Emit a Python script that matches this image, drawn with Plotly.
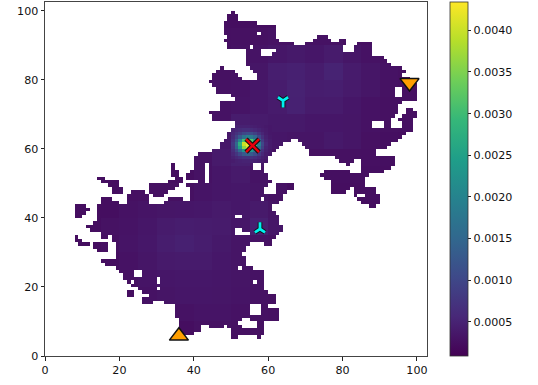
import plotly.graph_objects as go

# Occupied cells per grid row: row -> inclusive column runs
OCCUPIED = {
99: [(50,50)], 98: [(49,51)], 97: [(49,51)], 96: [(48,56)], 95: [(48,61)], 94: [(48,61)],
93: [(48,56),(58,61)], 92: [(49,61),(73,75)], 91: [(48,62),(72,76),(79,80)],
90: [(49,66),(70,80),(84,87)], 89: [(49,54),(56,79),(83,87)], 88: [(54,57),(62,79),(83,87)],
87: [(54,57),(61,87)], 86: [(54,90)], 85: [(54,91)], 84: [(54,92)],
83: [(47,47),(55,95)], 82: [(46,50),(56,96)], 81: [(45,51),(57,95)], 80: [(45,52),(57,97)],
79: [(44,98)], 78: [(45,99)], 77: [(46,93),(96,99)], 76: [(46,93),(96,99)], 75: [(50,93),(96,99)],
74: [(51,99)], 73: [(47,95)], 72: [(47,94)], 71: [(47,94),(97,98)], 70: [(44,94),(97,99)],
69: [(45,93),(96,99)], 68: [(45,92),(95,98)], 67: [(51,87),(91,92),(96,98)], 66: [(51,87),(91,92),(96,98)],
65: [(50,98)], 64: [(49,96)], 63: [(49,95)], 62: [(48,65),(68,94)], 61: [(47,63),(69,92)],
60: [(47,62),(70,91)], 59: [(45,61),(71,88)], 58: [(41,60),(71,88)], 57: [(40,59),(78,93)],
56: [(40,59),(79,82),(85,93)], 55: [(34,34),(40,42),(44,55),(58,58),(81,81),(85,93)],
54: [(34,34),(40,42),(44,55),(58,58),(85,92)], 53: [(34,35),(39,42),(44,58),(75,81),(85,90)],
52: [(34,35),(38,42),(44,59),(74,86)], 51: [(14,15),(35,36),(38,42),(44,59),(75,85)],
50: [(15,19),(33,36),(41,42),(44,60),(77,85)], 49: [(17,19),(28,35),(38,59),(62,66),(77,85)],
48: [(18,20),(28,34),(39,58),(62,66),(77,81),(83,88)],
47: [(18,20),(23,26),(28,32),(39,58),(62,64),(77,80),(83,88)],
46: [(22,27),(29,31),(39,63),(83,83),(86,89)], 45: [(15,17),(22,27),(33,36),(39,57),(59,63),(84,89)],
44: [(15,19),(22,27),(32,62),(85,89)], 43: [(8,10),(14,60),(87,88)], 42: [(8,11),(14,60)],
41: [(8,10),(14,61)], 40: [(8,9),(14,50),(53,62)], 39: [(14,62)], 38: [(13,62)], 37: [(11,63)],
36: [(12,50),(53,63)], 35: [(15,50),(55,62)], 34: [(8,8),(15,16),(18,61)], 33: [(8,9),(18,60)],
32: [(9,11),(13,16),(19,54),(59,60)], 31: [(13,16),(19,53)], 30: [(14,16),(19,53)], 29: [(19,52)],
28: [(19,53)], 27: [(15,53)], 26: [(16,53)], 25: [(19,51),(53,55)], 24: [(20,23),(26,58)],
23: [(21,23),(26,58)], 22: [(21,29),(31,58)], 21: [(22,22),(24,29),(31,55),(57,58)], 20: [(23,58)],
19: [(25,29),(31,58)], 18: [(22,23),(26,59)], 17: [(22,23),(28,61)], 16: [(26,61)],
15: [(26,28),(32,61)], 14: [(35,54),(58,59)], 13: [(35,54),(58,62)], 12: [(35,54),(58,62)],
11: [(35,62)], 10: [(36,52),(55,62)], 9: [(36,51),(57,58)], 8: [(36,41),(44,47),(49,52),(57,58)],
7: [(36,41),(50,58)], 6: [(36,39),(50,58)], 5: [(50,51),(57,57)],
}

# Density in units of 1e-4, per 5x5 block; block rows from y=0 upward, columns from x=0
BLOCK_VALUES = [
[2.5,2.5,2.5,2.5,2.5,2.5,2.5,2.5,2.5,2.5,2.5,2.5,2.5,2.5,2.5,2.5,2.5,2.5,2.5,2.5],
[2.5,2.5,2.5,2.5,2.5,2.5,2.5,2.5,2.9,2.9,2.8,2.8,2.5,2.5,2.5,2.5,2.5,2.5,2.5,2.5],
[2.5,2.5,2.5,2.5,2.5,2.5,2.5,3.0,3.2,3.2,3.0,2.9,2.8,2.5,2.5,2.5,2.5,2.5,2.5,2.5],
[2.5,2.5,2.5,2.5,2.5,3.0,3.3,3.5,3.5,3.4,3.2,3.0,2.8,2.5,2.5,2.5,2.5,2.5,2.5,2.5],
[2.5,2.5,2.5,2.5,2.8,3.2,3.5,3.6,3.6,3.5,3.3,3.0,2.5,2.5,2.5,2.5,2.5,2.5,2.5,2.5],
[2.5,2.5,2.5,2.5,3.0,3.4,3.9,4.1,4.0,3.6,3.3,3.0,2.5,2.5,2.5,2.5,2.5,2.5,2.5,2.5],
[2.5,2.5,2.5,2.7,3.2,3.6,4.3,4.7,4.3,3.8,3.3,3.0,2.8,2.5,2.5,2.5,2.5,2.5,2.5,2.5],
[2.5,2.5,2.5,2.9,3.1,3.5,4.1,4.3,4.2,4.0,3.5,4.6,3.5,2.5,2.5,2.5,2.5,2.5,2.5,2.5],
[2.5,2.5,2.5,2.5,3.0,3.2,3.4,3.5,3.6,3.9,3.6,3.9,3.3,2.5,2.5,2.5,2.5,2.5,2.5,2.5],
[2.5,2.5,2.5,2.5,2.7,2.8,2.8,2.8,3.2,3.5,3.6,3.3,3.0,2.5,2.5,2.5,2.5,2.6,2.5,2.5],
[2.5,2.5,2.5,2.5,2.5,2.5,2.5,2.5,3.0,3.5,3.9,3.1,2.8,2.7,2.6,2.6,2.6,2.6,2.5,2.5],
[2.5,2.5,2.5,2.5,2.5,2.5,2.5,2.5,3.0,3.9,4.6,3.6,2.9,2.8,2.8,2.8,2.8,2.7,2.6,2.5],
[2.5,2.5,2.5,2.5,2.5,2.5,2.5,2.5,2.7,3.6,4.6,4.2,3.5,3.3,3.3,3.8,3.4,2.8,2.6,2.5],
[2.5,2.5,2.5,2.5,2.5,2.5,2.5,2.5,2.5,3.0,4.2,4.0,3.8,3.8,3.5,3.5,3.4,3.0,2.8,2.7],
[2.5,2.5,2.5,2.5,2.5,2.5,2.5,2.5,2.5,3.0,3.2,3.6,4.0,4.8,4.0,4.0,3.5,3.0,2.8,2.7],
[2.5,2.5,2.5,2.5,2.5,2.5,2.5,2.5,2.5,3.0,3.1,3.6,4.2,4.9,4.3,4.4,3.9,3.4,2.9,2.7],
[2.5,2.5,2.5,2.5,2.5,2.5,2.5,2.5,2.5,2.8,3.0,3.4,4.4,4.7,4.2,5.0,4.0,3.4,3.0,2.7],
[2.5,2.5,2.5,2.5,2.5,2.5,2.5,2.5,2.5,2.6,2.9,3.1,3.5,3.8,3.5,4.0,3.4,3.0,2.7,2.5],
[2.5,2.5,2.5,2.5,2.5,2.5,2.5,2.5,2.5,2.7,2.8,2.8,3.0,3.0,3.0,3.0,2.8,2.7,2.5,2.5],
[2.5,2.5,2.5,2.5,2.5,2.5,2.5,2.5,2.5,2.5,2.5,2.5,2.5,2.5,2.5,2.5,2.5,2.5,2.5,2.5],
]

# Bright peak, cell by cell, units of 1e-4: rows y=66 down to y=56, columns x=50..60
PEAK_X0 = 50
PEAK_Y_TOP = 66
PEAK_VALUES = [
[4.6,4.8,4.8,4.8,4.8,4.6,4.4,4.2,4.0,3.8,3.6],
[5,5.5,6,6.5,6.5,6,5.5,5,4.4,4,3.6],
[5.5,7,8.5,10,11,10.5,9,7,5.2,4.2,3.6],
[6,9,13,17,19,18,15,10,6.8,4.6,3.8],
[7,12,21,31,34,32,25,15,8.5,5,4],
[8,15,28,40,43,42,33,19,10,5.5,4],
[7.5,14,25,36,41,38,28,16,9,5,4],
[6.5,10,16,23,26,24,18,11,7,4.6,3.8],
[5.5,7.5,10,13,14,13,11,8,5.5,4.2,3.6],
[4.8,5.5,6.5,7,7,7,6.5,5.5,4.5,4,3.4],
[4.2,4.6,4.8,5,5,5,4.8,4.4,4,3.6,3.2],
]

CBAR_TICKS = [0.0005, 0.0010, 0.0015, 0.0020, 0.0025, 0.0030, 0.0035, 0.0040]
CBAR_LABELS = ["0.0005", "0.0010", "0.0015", "0.0020", "0.0025", "0.0030", "0.0035", "0.0040"]
Z_MIN, Z_MAX = 0.00009, 0.00434
AXIS_TICKS = [0, 20, 40, 60, 80, 100]

START_X, START_Y = [36], [5.8]
GOAL_X, GOAL_Y = [98], [79.2]
PEAK_MARK_X, PEAK_MARK_Y = [55.8], [61]
Y_DOWN_X, Y_DOWN_Y = [64], [74]
Y_UP_X, Y_UP_Y = [57.8], [36.8]

N = 100
z = [[None] * N for _ in range(N)]
for row, runs in OCCUPIED.items():
    for a, b in runs:
        for col in range(a, b + 1):
            v = BLOCK_VALUES[row // 5][col // 5]
            r = PEAK_Y_TOP - row
            c = col - PEAK_X0
            if 0 <= r < len(PEAK_VALUES) and 0 <= c < len(PEAK_VALUES[0]):
                v = PEAK_VALUES[r][c]
            z[row][col] = v * 1e-4

fig = go.Figure()
fig.add_trace(go.Heatmap(
    z=z, x0=0.5, dx=1, y0=0.5, dy=1, colorscale="Viridis", zmin=Z_MIN, zmax=Z_MAX,
    hoverongaps=False,
    colorbar=dict(
        x=(450 - 45) / 382, xanchor="left", xpad=0, y=0.5, yanchor="middle", ypad=0,
        len=354, lenmode="pixels", thickness=18, thicknessmode="pixels",
        outlinewidth=0.8, outlinecolor="#333333",
        tickmode="array", tickvals=CBAR_TICKS, ticktext=CBAR_LABELS,
        ticks="outside", ticklen=3.5, tickwidth=0.8, tickcolor="#222222",
        tickfont=dict(family="DejaVu Sans", size=11.1, color="#111111"),
    ),
))


def mark(x, y, symbol, size, color, width, fill=None):
    fig.add_trace(go.Scatter(
        x=x, y=y, mode="markers", showlegend=False, cliponaxis=False,
        marker=dict(symbol=symbol, size=size, color=fill or color,
                    line=dict(color=color, width=width)),
    ))


mark(PEAK_MARK_X, PEAK_MARK_Y, "x-thin", 13, "#111111", 4.6)
mark(PEAK_MARK_X, PEAK_MARK_Y, "x-thin", 13, "#e8000b", 2.4)
for sx, sy, sym in [(Y_DOWN_X, Y_DOWN_Y, "y-down"), (Y_UP_X, Y_UP_Y, "y-up")]:
    mark(sx, sy, sym, 8.5, "#111111", 4.6)
    mark(sx, sy, sym, 8.5, "#00f0f0", 2.8)
mark(START_X, START_Y, "triangle-up", 16.5, "#111111", 1.5, fill="#ff9f00")
mark(GOAL_X, GOAL_Y, "triangle-down", 16.5, "#111111", 1.5, fill="#ff9f00")

axis = dict(
    tickmode="array", tickvals=AXIS_TICKS, ticktext=[str(t) for t in AXIS_TICKS],
    ticks="outside", ticklen=3.5, tickwidth=0.8, tickcolor="#222222",
    showgrid=False, zeroline=False, showline=True, mirror=True,
    linecolor="#444444", linewidth=1,
    tickfont=dict(family="DejaVu Sans", size=11.1, color="#111111"),
)
fig.update_xaxes(range=[0, 102.7], **axis)
fig.update_yaxes(range=[0, 102.6], **axis)
fig.update_layout(
    width=538, height=385, margin=dict(l=45, r=111, t=2, b=29),
    paper_bgcolor="white", plot_bgcolor="white", showlegend=False,
)
fig.write_html("out.html", config={"displayModeBar": False},
               post_script="document.body.style.margin='0';")
